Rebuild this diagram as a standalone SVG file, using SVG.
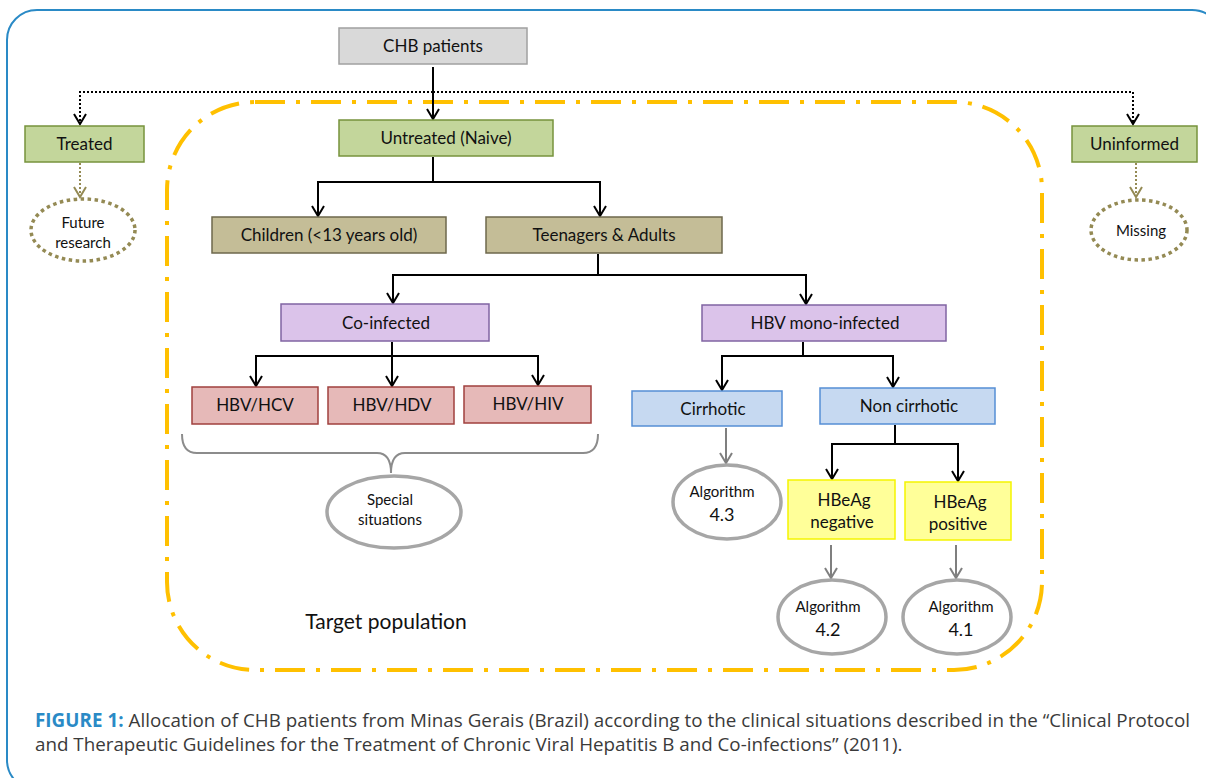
<svg xmlns="http://www.w3.org/2000/svg" width="1206" height="778" viewBox="0 0 1206 778">
<defs>
<marker id="ab" viewBox="-12 -7 14 14" refX="0" refY="0" markerWidth="14" markerHeight="14" markerUnits="userSpaceOnUse" orient="auto"><path d="M-10,-6 L0,0 L-10,6" fill="none" stroke="#000" stroke-width="2"/></marker>
<marker id="ag" viewBox="-12 -7 14 14" refX="0" refY="0" markerWidth="14" markerHeight="14" markerUnits="userSpaceOnUse" orient="auto"><path d="M-10,-6 L0,0 L-10,6" fill="none" stroke="#7F7F7F" stroke-width="2"/></marker>
<marker id="ao" viewBox="-12 -7 14 14" refX="0" refY="0" markerWidth="14" markerHeight="14" markerUnits="userSpaceOnUse" orient="auto"><path d="M-10,-6 L0,0 L-10,6" fill="none" stroke="#948A54" stroke-width="2"/></marker>
</defs>
<style>
text{font-family:Lato,"Liberation Sans",sans-serif;fill:#111;text-anchor:middle}
.t{font-size:17px}
.s{font-size:15px}
.conn{fill:none;stroke:#000;stroke-width:2}
.blk{marker-end:url(#ab)}
.gry{fill:none;stroke:#7F7F7F;stroke-width:2;marker-end:url(#ag)}
.dot{fill:none;stroke:#000;stroke-width:2;stroke-dasharray:2 2}
.olv{fill:none;stroke:#948A54;stroke-width:2;stroke-dasharray:2 2;marker-end:url(#ao)}
.gray{fill:#D9D9D9;stroke:#A0A0A0;stroke-width:1.5}
.green{fill:#C3D69B;stroke:#77933C;stroke-width:1.5}
.tan{fill:#C4BD97;stroke:#6E684C;stroke-width:1.5}
.lav{fill:#DBC3EA;stroke:#8064A2;stroke-width:1.5}
.pink{fill:#E6B9B8;stroke:#A0403E;stroke-width:1.5}
.blue{fill:#C6D9F1;stroke:#558ED5;stroke-width:1.5}
.yel{fill:#FFFF99;stroke:#F5F500;stroke-width:1.5}
.ell{fill:#fff;stroke:#A6A6A6;stroke-width:3.5}
.oell{fill:#fff;stroke:#948A54;stroke-width:3.5;stroke-dasharray:3.5 3.5}
.cap{font-family:"Open Sans","Liberation Sans",sans-serif;font-size:18.8px;fill:#3a3a3a;text-anchor:start}
</style>
<rect x="7" y="10" width="1215" height="780" rx="30" fill="#fff" stroke="#2A8AC6" stroke-width="2"/>
<rect x="167" y="102" width="875" height="568" rx="88" fill="none" stroke="#FFC000" stroke-width="4" stroke-dasharray="30 11 4 11"/>
<text x="386" y="629" style="font-size:21px">Target population</text>
<g id="connectors">
<path class="dot blk" d="M433,92 H80 V124"/>
<path class="dot blk" d="M433,92 H1133 V124"/>
<path class="conn blk" d="M433,67 V119"/>
<path class="conn" d="M433,157 V182 M318,182 H600"/>
<path class="conn blk" d="M318,181 V216"/>
<path class="conn blk" d="M600,181 V216"/>
<path class="conn" d="M598,254 V275 M393,275 H806"/>
<path class="conn blk" d="M393,274 V303"/>
<path class="conn blk" d="M806,274 V304"/>
<path class="conn" d="M392,342 V356 M256,356 H538"/>
<path class="conn blk" d="M256,355 V386"/>
<path class="conn blk" d="M392,355 V386"/>
<path class="conn blk" d="M538,355 V385"/>
<path class="conn" d="M803,342 V356 M722,356 H893"/>
<path class="conn blk" d="M722,355 V390"/>
<path class="conn blk" d="M893,355 V387"/>
<path class="conn" d="M895,425 V444 M832,444 H958"/>
<path class="conn blk" d="M832,443 V479"/>
<path class="conn blk" d="M958,443 V481"/>
<path class="gry" d="M726,428 V463"/>
<path class="gry" d="M831,545 V578"/>
<path class="gry" d="M956,545 V578"/>
<path class="olv" d="M80,163 V197"/>
<path class="olv" d="M1136,163 V197"/>
<path d="M182,434 Q182,453 197,453 L377,453 Q391,453 391,473 Q391,453 405,453 L583,453 Q598,453 598,434" fill="none" stroke="#8C8C8C" stroke-width="2"/>
</g>
<g id="chb"><rect class="gray" x="339" y="28" width="188" height="36"/><text class="t" x="433" y="52">CHB patients</text></g>
<g id="treated"><rect class="green" x="25" y="126" width="119" height="36"/><text class="t" x="84.5" y="150">Treated</text></g>
<g id="untreated"><rect class="green" x="339" y="120" width="214" height="36"/><text class="t" x="446" y="144">Untreated (Naive)</text></g>
<g id="uninformed"><rect class="green" x="1072" y="126" width="125" height="36"/><text class="t" x="1134.5" y="150">Uninformed</text></g>
<g id="future"><ellipse class="oell" cx="83" cy="230" rx="52" ry="31"/><text class="s" x="83" y="228">Future</text><text class="s" x="83" y="248">research</text></g>
<g id="missing"><ellipse class="oell" cx="1139" cy="230" rx="48" ry="30"/><text class="s" x="1141" y="236">Missing</text></g>
<g id="children"><rect class="tan" x="212" y="217" width="234" height="36"/><text class="t" x="329" y="241">Children (&lt;13 years old)</text></g>
<g id="teens"><rect class="tan" x="486" y="217" width="236" height="36"/><text class="t" x="604" y="241">Teenagers &amp; Adults</text></g>
<g id="coinf"><rect class="lav" x="281" y="304" width="208" height="37"/><text class="t" x="386" y="329">Co-infected</text></g>
<g id="mono"><rect class="lav" x="702" y="305" width="244" height="36"/><text class="t" x="825" y="329">HBV mono-infected</text></g>
<g id="hcv"><rect class="pink" x="192" y="387" width="126" height="37"/><text class="t" x="255" y="411">HBV/HCV</text></g>
<g id="hdv"><rect class="pink" x="328" y="387" width="126" height="37"/><text class="t" x="392" y="411">HBV/HDV</text></g>
<g id="hiv"><rect class="pink" x="464" y="386" width="127" height="37"/><text class="t" x="528" y="410">HBV/HIV</text></g>
<g id="special"><ellipse class="ell" cx="394" cy="512" rx="67" ry="36"/><text class="s" x="390" y="505">Special</text><text class="s" x="390" y="525">situations</text></g>
<g id="cirr"><rect class="blue" x="632" y="391" width="150" height="35"/><text class="t" x="713" y="415">Cirrhotic</text></g>
<g id="noncirr"><rect class="blue" x="820" y="388" width="175" height="36"/><text class="t" x="909" y="412">Non cirrhotic</text></g>
<g id="alg43"><ellipse class="ell" cx="727" cy="502" rx="54" ry="37"/><text class="s" x="722" y="497">Algorithm</text><text class="t" x="722" y="521" style="font-size:18px">4.3</text></g>
<g id="neg"><rect class="yel" x="788" y="480" width="107" height="59"/><text class="t" x="844" y="506">HBeAg</text><text class="t" x="842" y="528">negative</text></g>
<g id="pos"><rect class="yel" x="905" y="482" width="106" height="58"/><text class="t" x="960" y="508">HBeAg</text><text class="t" x="958" y="530">positive</text></g>
<g id="alg42"><ellipse class="ell" cx="832" cy="617" rx="54" ry="37"/><text class="s" x="828" y="612">Algorithm</text><text class="t" x="828" y="636" style="font-size:18px">4.2</text></g>
<g id="alg41"><ellipse class="ell" cx="957" cy="617" rx="54" ry="37"/><text class="s" x="961" y="612">Algorithm</text><text class="t" x="961" y="636" style="font-size:18px">4.1</text></g>
<text class="cap" x="35" y="727" textLength="1155" lengthAdjust="spacing"><tspan font-weight="bold" fill="#2A8AC6">FIGURE 1:</tspan> Allocation of CHB patients from Minas Gerais (Brazil) according to the clinical situations described in the “Clinical Protocol</text>
<text class="cap" x="35" y="751">and Therapeutic Guidelines for the Treatment of Chronic Viral Hepatitis B and Co-infections” (2011).</text>
</svg>
